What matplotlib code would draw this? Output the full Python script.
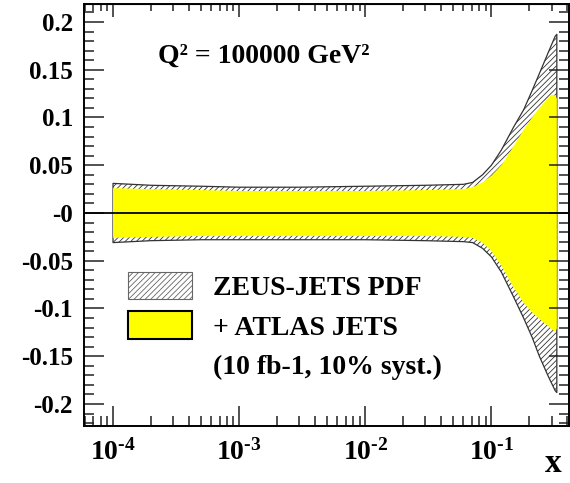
import numpy as np
import matplotlib
matplotlib.use("Agg")
import matplotlib.pyplot as plt
from matplotlib.patches import Patch
from matplotlib.ticker import FixedLocator, FixedFormatter, LogLocator, NullFormatter

plt.rcParams['font.family'] = ['Liberation Serif', 'DejaVu Serif']
plt.rcParams['font.weight'] = 'bold'
plt.rcParams['mathtext.fontset'] = 'custom'
plt.rcParams['mathtext.rm'] = 'Liberation Serif:bold'
plt.rcParams['mathtext.bf'] = 'Liberation Serif:bold'
plt.rcParams['mathtext.it'] = 'Liberation Serif:bold'
plt.rcParams['hatch.linewidth'] = 0.6

# ZEUS-JETS PDF band (outer, hatched)
x_zeus = [1e-4, 2e-4, 5e-4, 1e-3, 3e-3, 1e-2, 3e-2, 0.06, 0.071, 0.085, 0.1,
          0.12, 0.15, 0.18, 0.21, 0.24, 0.28, 0.32, 0.33]
zeus_hi = [0.031, 0.029, 0.028, 0.027, 0.027, 0.028, 0.029, 0.030, 0.032, 0.040, 0.050,
           0.066, 0.090, 0.108, 0.128, 0.146, 0.167, 0.185, 0.187]
zeus_lo = [-0.031, -0.029, -0.028, -0.028, -0.028, -0.028, -0.029, -0.030, -0.031, -0.037, -0.046,
           -0.062, -0.088, -0.110, -0.130, -0.150, -0.170, -0.186, -0.188]

# + ATLAS JETS band (inner, yellow)
x_atlas = [1e-4, 2e-4, 5e-4, 1e-3, 3e-3, 1e-2, 3e-2, 0.06, 0.071, 0.085, 0.1,
           0.12, 0.15, 0.18, 0.21, 0.24, 0.28, 0.30, 0.32, 0.33]
atlas_hi = [0.026, 0.025, 0.024, 0.023, 0.023, 0.023, 0.024, 0.025, 0.027, 0.032, 0.039,
            0.050, 0.070, 0.087, 0.100, 0.110, 0.120, 0.124, 0.123, 0.120]
atlas_lo = [-0.026, -0.025, -0.024, -0.024, -0.024, -0.024, -0.024, -0.025, -0.026, -0.031, -0.040,
            -0.055, -0.078, -0.094, -0.104, -0.111, -0.118, -0.122, -0.124, -0.121]

y_ticks = [-0.2, -0.15, -0.1, -0.05, 0.0, 0.05, 0.1, 0.15, 0.2]
y_labels = ['-0.2', '-0.15', '-0.1', '-0.05', '-0', '0.05', '0.1', '0.15', '0.2']
x_ticks = [1e-4, 1e-3, 1e-2, 1e-1]
x_labels = [r'$10^{\text{-}4}$', r'$10^{\text{-}3}$', r'$10^{\text{-}2}$', r'$10^{\text{-}1}$']

fig = plt.figure(figsize=(5.7, 4.83), dpi=100)
ax = fig.add_axes([84 / 570, 1 - 425.5 / 483, 485 / 570, 421.5 / 483])

ax.fill_between(x_zeus, zeus_lo, zeus_hi, facecolor='white', edgecolor='#333333',
                hatch='//////', linewidth=0.9)
ax.fill_between(x_atlas, atlas_lo, atlas_hi, facecolor='#ffff00', edgecolor='none', linewidth=0)
ax.axhline(0, color='black', linewidth=1.3)

ax.set_xscale('log')
ax.set_xlim(10 ** -4.23, 10 ** -0.385)
ax.set_ylim(-0.2225, 0.2188)

ax.yaxis.set_major_locator(FixedLocator(y_ticks))
ax.yaxis.set_major_formatter(FixedFormatter(y_labels))
ax.yaxis.set_minor_locator(FixedLocator(np.arange(-0.22, 0.2201, 0.01)))
ax.xaxis.set_major_locator(FixedLocator(x_ticks))
ax.xaxis.set_major_formatter(FixedFormatter(x_labels))
ax.xaxis.set_minor_locator(LogLocator(base=10, subs=np.arange(2, 10), numticks=20))
ax.xaxis.set_minor_formatter(NullFormatter())

ax.tick_params(which='both', direction='in', left=True, right=True, bottom=True, top=False,
               width=1.1, color='#222222')
ax.tick_params(which='major', length=14.5)
ax.tick_params(which='minor', length=7)
ax.tick_params(axis='y', labelsize=18, pad=8)
ax.tick_params(axis='x', labelsize=20, pad=10)
for spine in ax.spines.values():
    spine.set_linewidth(1.4)

top = ax.secondary_xaxis('top')
top.xaxis.set_major_locator(FixedLocator(x_ticks))
top.xaxis.set_minor_locator(LogLocator(base=10, subs=np.arange(2, 10), numticks=20))
top.xaxis.set_major_formatter(NullFormatter())
top.xaxis.set_minor_formatter(NullFormatter())
top.tick_params(which='both', direction='in', width=1.1, color='#222222')
top.tick_params(which='major', length=9)
top.tick_params(which='minor', length=5)

ax.text(0.152, 0.876, 'Q² = 100000 GeV²', transform=ax.transAxes, fontsize=20,
        fontweight='bold', ha='left', va='center')
fig.text(0.985, 0.022, 'x', fontsize=24, fontweight='bold', ha='right', va='baseline')

handles = [Patch(facecolor='white', edgecolor='#666666', hatch='//////', linewidth=0.8),
           Patch(facecolor='#ffff00', edgecolor='black', linewidth=1.5),
           Patch(facecolor='none', edgecolor='none')]
labels = ['ZEUS-JETS PDF', '+ ATLAS JETS', '(10 fb-1, 10% syst.)']
ax.legend(handles, labels, loc='upper left', bbox_to_anchor=(0.08, 0.378), frameon=False,
          prop={'family': 'Liberation Serif', 'weight': 'bold', 'size': 20},
          handlelength=2.3, handleheight=1.15, handletextpad=0.75, labelspacing=0.38,
          borderaxespad=0, borderpad=0.2)

fig.savefig('out.png', dpi=100)
